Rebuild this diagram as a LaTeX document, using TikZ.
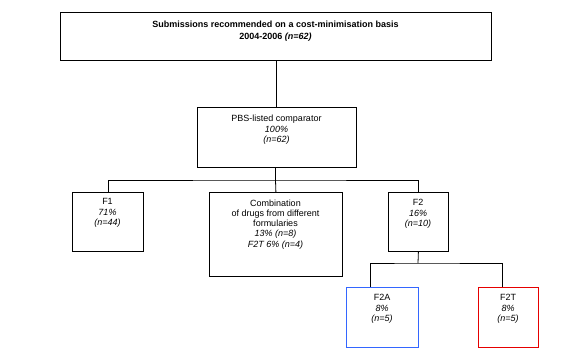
\documentclass[tikz,border=0pt]{standalone}
\usepackage{fontspec}
\setmainfont{Liberation Sans}
\definecolor{boxblue}{RGB}{51,102,255}
\definecolor{boxred}{RGB}{230,0,0}
\begin{document}
\begin{tikzpicture}[x=1pt,y=-1pt,
  box/.style={draw, line width=0.8pt, inner sep=0pt, anchor=north west},
  txt/.style={anchor=north, align=center, inner sep=0pt, font=\fontsize{9}{10.5}\selectfont},
  bigtxt/.style={anchor=north, align=center, inner sep=0pt, font=\fontsize{9}{12}\selectfont\bfseries},
  conn/.style={line width=0.8pt}]
\useasboundingbox (0,0) rectangle (564,360);
% boxes
\node[box, minimum width=431pt, minimum height=48pt] (top) at (60,12) {};
\node[box, minimum width=159pt, minimum height=60pt] (pbs) at (197,107) {};
\node[box, minimum width=71pt, minimum height=59pt] (f1) at (72,192) {};
\node[box, minimum width=133pt, minimum height=84pt] (comb) at (209,192) {};
\node[box, minimum width=60pt, minimum height=59pt] (f2) at (388,192) {};
\node[box, draw=boxblue, minimum width=72pt, minimum height=60pt] (f2a) at (346,287) {};
\node[box, draw=boxred, minimum width=60pt, minimum height=60pt] (f2t) at (478,287) {};
% texts
\node[bigtxt] (topT) at (275.5,19) {\strut Submissions recommended on a cost-minimisation basis\\2004-2006 \textit{(n=62)}};
\node[txt] (pbsT) at (276.5,114) {\strut PBS-listed comparator\\\textit{100\%}\\\textit{(n=62)}};
\node[txt] (f1T) at (107.5,197) {\strut F1\\\textit{71\%}\\\textit{(n=44)}};
\node[txt, font=\fontsize{9}{10.2}\selectfont] (combT) at (275.5,199) {\strut Combination\\of drugs from different\\formularies\\\textit{13\% (n=8)}\\\textit{F2T 6\% (n=4)}};
\node[txt] (f2T) at (418,198) {\strut F2\\\textit{16\%}\\\textit{(n=10)}};
\node[txt] (f2aT) at (382,293) {\strut F2A\\\textit{8\%}\\\textit{(n=5)}};
\node[txt] (f2tT) at (508,293) {\strut F2T\\\textit{8\%}\\\textit{(n=5)}};
% connectors
\coordinate (bar) at (275.5,180);
\coordinate (bar2) at (418,263);
\draw[conn] (top.south) -- (top.south |- pbs.north);
\draw[conn] (pbs.south -| bar) -- (bar);
\draw[conn] (f1.north) |- (bar) -| (f2.north);
\draw[conn] (bar) -- (comb.north);
\draw[conn] (f2.south) -- (bar2);
\draw[conn] ([xshift=24pt]f2a.north west) |- (bar2) -| ([xshift=24pt]f2t.north west);
\end{tikzpicture}
\end{document}
